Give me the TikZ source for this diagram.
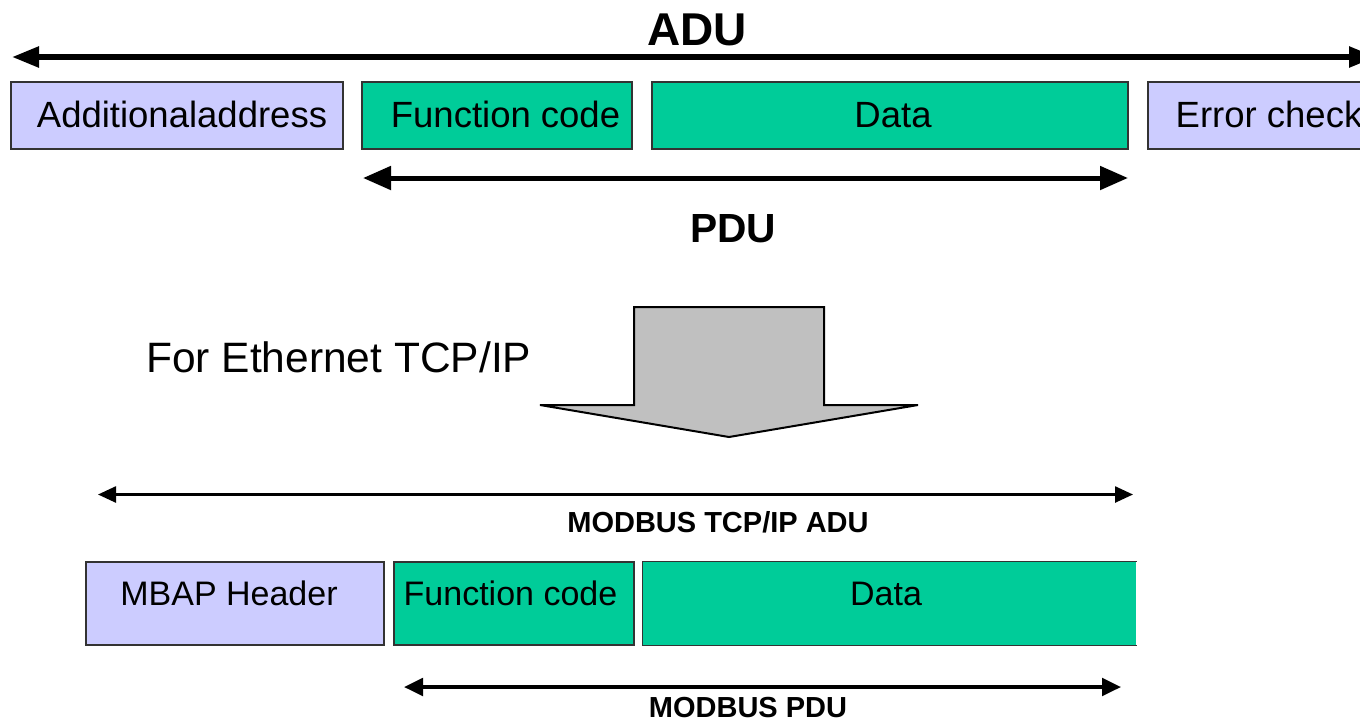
\documentclass[tikz,border=0pt]{standalone}
\usepackage{fontspec}
\setmainfont{Liberation Sans}
\usetikzlibrary{arrows.meta}
\definecolor{lav}{HTML}{CCCCFF}
\definecolor{grn}{HTML}{00CC99}
\definecolor{arrgray}{HTML}{C0C0C0}
\definecolor{edgec}{HTML}{333333}
\begin{document}
\begin{tikzpicture}[x=1pt,y=-1pt,
  topbox/.style={draw=edgec,line width=1.4pt,inner sep=0pt,minimum height=67pt,
    text height=25pt,text depth=2pt,font=\fontsize{36.5}{40}\selectfont},
  botbox/.style={draw=edgec,line width=1.4pt,inner sep=0pt,minimum height=83pt,
    text height=12pt,text depth=9pt,font=\fontsize{34}{38}\selectfont},
  heavyarrow/.style={line width=5.5pt,{Triangle[length=27pt,width=20pt]}-{Triangle[length=27pt,width=20pt]}},
  pduarrow/.style={line width=5pt,{Triangle[length=28pt,width=23pt]}-{Triangle[length=28pt,width=23pt]}},
  thinarrow/.style={line width=2.5pt,{Triangle[length=18pt,width=16pt]}-{Triangle[length=18pt,width=16pt]}},
  midarrow/.style={line width=3.5pt,{Triangle[length=19pt,width=17.5pt]}-{Triangle[length=19pt,width=17.5pt]}},
  biglabel/.style={anchor=base,font=\fontsize{46}{50}\selectfont\bfseries},
  pdulabel/.style={anchor=base,font=\fontsize{40.7}{44}\selectfont\bfseries},
  smalllabel/.style={anchor=base,inner sep=0pt,font=\fontsize{29}{32}\selectfont\bfseries}
]
\useasboundingbox (0,0) rectangle (1360,724);
\clip (0,0) rectangle (1360,724);

% top row
\node[biglabel] (adu) at (697,45) {ADU};
\coordinate (adul) at (12,57);
\coordinate (adur) at (1376,57);
\draw[heavyarrow] (adul) -- (adur);

\node[topbox,fill=lav,minimum width=332pt] (addr) at (177,115.5) {\hspace*{10pt}Additionaladdress};
\node[topbox,fill=grn,minimum width=270pt] (fc1) at (497,115.5) {\hspace*{17pt}Function code};
\node[topbox,fill=grn,minimum width=476pt] (data1) at (890,115.5) {\hspace*{6pt}Data};
\node[topbox,fill=lav,minimum width=242pt] (err) at (1269,115.5) {Error check};

\coordinate (pdul) at (363,178);
\coordinate (pdur) at (1128,178);
\draw[pduarrow] (pdul) -- (pdur);
\node[pdulabel] (pdu) at (733,242) {PDU};

% transition
\node[anchor=base west,inner sep=0pt,font=\fontsize{42.5}{46}\selectfont] (eth) at (146,372) {For Ethernet TCP/IP};
\draw[fill=arrgray,line width=2pt,line join=miter] (634,307) -- (824,307) -- (824,405) -- (918,405)
  -- (729,437) -- (540,405) -- (634,405) -- cycle;

% bottom row
\coordinate (tadul) at (98,494.5);
\coordinate (tadur) at (1133,494.5);
\draw[thinarrow] (tadul) -- (tadur);
\node[smalllabel] (tadu) at (718,532) {MODBUS TCP/IP ADU};

\node[botbox,fill=lav,minimum width=298pt] (mbap) at (235,603.5) {MBAP Header\hspace*{12pt}};
\node[botbox,fill=grn,minimum width=240pt] (fc2) at (514,603.5) {Function code\hspace*{7pt}};
\node[botbox,fill=grn,draw=none,minimum width=493pt] (data2) at (889.5,603.5) {Data\hspace*{7pt}};
\draw[draw=edgec,line width=1.4pt] (data2.north east) -- (data2.north west) -- (data2.south west) -- (data2.south east);

\coordinate (mpdul) at (404,687);
\coordinate (mpdur) at (1121,687);
\draw[midarrow] (mpdul) -- (mpdur);
\node[smalllabel,text depth=0pt] (mpdu) at (748,717) {MODBUS PDU};
\end{tikzpicture}
\end{document}
